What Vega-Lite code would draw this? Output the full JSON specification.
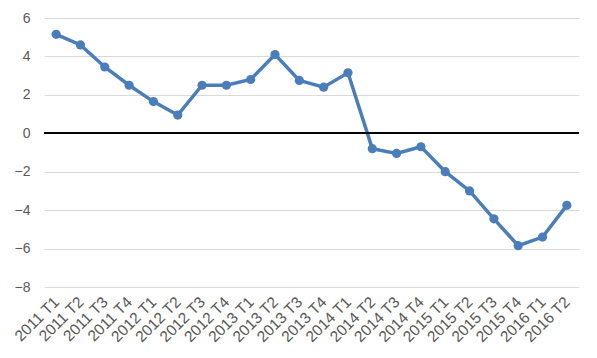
{
  "$schema": "https://vega.github.io/schema/vega-lite/v6.json",
  "width": 535,
  "height": 269,
  "autosize": "none",
  "padding": {"left": 44, "top": 18, "right": 18, "bottom": 71},
  "background": "white",
  "config": {"view": {"stroke": null}, "font": "Liberation Sans"},
  "data": {"values": [
    {"q": "2011 T1", "v": 5.15},
    {"q": "2011 T2", "v": 4.6},
    {"q": "2011 T3", "v": 3.45},
    {"q": "2011 T4", "v": 2.5},
    {"q": "2012 T1", "v": 1.65},
    {"q": "2012 T2", "v": 0.95},
    {"q": "2012 T3", "v": 2.5},
    {"q": "2012 T4", "v": 2.5},
    {"q": "2013 T1", "v": 2.8},
    {"q": "2013 T2", "v": 4.1},
    {"q": "2013 T3", "v": 2.75},
    {"q": "2013 T4", "v": 2.4},
    {"q": "2014 T1", "v": 3.15},
    {"q": "2014 T2", "v": -0.8},
    {"q": "2014 T3", "v": -1.05},
    {"q": "2014 T4", "v": -0.7},
    {"q": "2015 T1", "v": -2.0},
    {"q": "2015 T2", "v": -3.0},
    {"q": "2015 T3", "v": -4.45},
    {"q": "2015 T4", "v": -5.85},
    {"q": "2016 T1", "v": -5.4},
    {"q": "2016 T2", "v": -3.75}
  ]},
  "encoding": {
    "y": {"type": "quantitative",
      "scale": {"domain": [-8, 6], "nice": false},
      "axis": {"title": null, "values": [-8, -6, -4, -2, 0, 2, 4, 6], "grid": true, "labelOverlap": false, "labelColor": "#595959", "labelFontSize": 14, "domain": false, "ticks": false, "gridColor": "#d9d9d9", "labelPadding": 14}}
  },
  "layer": [
    {
      "mark": {"type": "line", "color": "#4a7ebb", "strokeWidth": 3.5, "point": {"filled": true, "size": 85, "color": "#4a7ebb", "opacity": 1}},
      "encoding": {
        "x": {"field": "q", "type": "ordinal", "sort": null,
          "scale": {"type": "point", "padding": 0.5},
          "axis": {"title": null, "labelAngle": -45, "labelAlign": "right", "labelBaseline": "middle", "labelOverlap": false, "labelColor": "#595959", "labelFontSize": 15.5, "domain": false, "ticks": false, "grid": false, "labelPadding": 12}},
        "y": {"field": "v"}
      }
    },
    {
      "mark": {"type": "rule", "color": "black", "strokeWidth": 1.2},
      "encoding": {"y": {"datum": 0}}
    }
  ]
}
